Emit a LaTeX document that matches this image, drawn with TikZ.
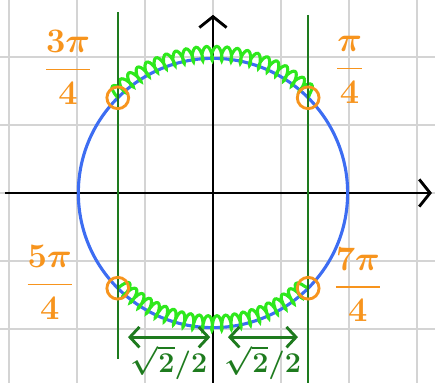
\documentclass[tikz,border=0pt]{standalone}
\usepackage{amsmath}
\usepackage{tikz}
\usetikzlibrary{arrows.meta, positioning, calc, decorations.pathmorphing}
\definecolor{gridgray}{HTML}{D4D4D4}
\definecolor{penblue}{HTML}{3D6DF2}
\definecolor{pengreen}{HTML}{1E7B1E}
\definecolor{coilgreen}{HTML}{2EE81C}
\definecolor{penorange}{HTML}{F7941D}
\tikzset{
    gridln/.style={gridgray, line width=0.9pt},
    axisarr/.style={-{Straight Barb[length=1.6mm, width=4mm]}, line width=1.2pt, black},
    unitcirc/.style={penblue, line width=1.3pt},
    vline/.style={pengreen, line width=0.9pt},
    coilarc/.style={coilgreen, line width=1.3pt, decorate,
                    decoration={coil, amplitude=3pt, segment length=4pt, aspect=0.3, raise=2pt}},
    marker/.style={circle, draw=penorange, line width=1.2pt, minimum size=0.32cm, inner sep=0pt},
    fraclbl/.style={text=penorange, font=\Large\boldmath},
    dimarr/.style={{Straight Barb[length=1.4mm, width=3mm]}-{Straight Barb[length=1.4mm, width=3mm]},
                   pengreen, line width=1.2pt},
    dimlbl/.style={text=pengreen, font=\large\boldmath, inner sep=1pt}
}
\begin{document}
\begin{tikzpicture}
    \useasboundingbox (-3.132,-2.794) rectangle (3.265,2.838);
    \draw[gridln] (-3.2,-2.9) grid (3.3,2.9);
    \draw[axisarr] (-3.06,0) -- (3.22,0);
    \draw[axisarr] (0,-2.8) -- (0,2.62);
    \draw[unitcirc] (0,0) circle (1.98);
    % springs on the arcs |x| < sqrt2/2
    \draw[coilarc] (135:1.98) arc (135:45:1.98);
    \draw[coilarc] (225:1.98) arc (225:315:1.98);
    \draw[vline] (-1.4,2.66) -- (-1.4,-2.44);
    \draw[vline] (1.4,2.62) -- (1.4,-2.8);
    \foreach \ang/\nm in {45/qa,135/qb,225/qc,315/qd}
        \node[marker] (\nm) at (\ang:1.98) {};
    \node[fraclbl] (lqb) at (-2.13,1.85) {$\dfrac{3\pi}{4}$};
    \node[fraclbl] (lqa) at (2.01,1.81) {$\dfrac{\pi}{4}$};
    \node[fraclbl] (lqc) at (-2.4,-1.31) {$\dfrac{5\pi}{4}$};
    \node[fraclbl] (lqd) at (2.13,-1.35) {$\dfrac{7\pi}{4}$};
    \coordinate (dla) at (-1.25,-2.12);
    \coordinate (dlb) at (-0.04,-2.12);
    \coordinate (dra) at (0.22,-2.12);
    \coordinate (drb) at (1.25,-2.12);
    \draw[dimarr] (dla) -- (dlb);
    \draw[dimarr] (dra) -- (drb);
    \node[dimlbl, below=0.08cm of $(dla)!0.5!(dlb)$] (wl) {$\sqrt{2}/2$};
    \node[dimlbl, below=0.08cm of $(dra)!0.5!(drb)$] (wr) {$\sqrt{2}/2$};
\end{tikzpicture}
\end{document}
